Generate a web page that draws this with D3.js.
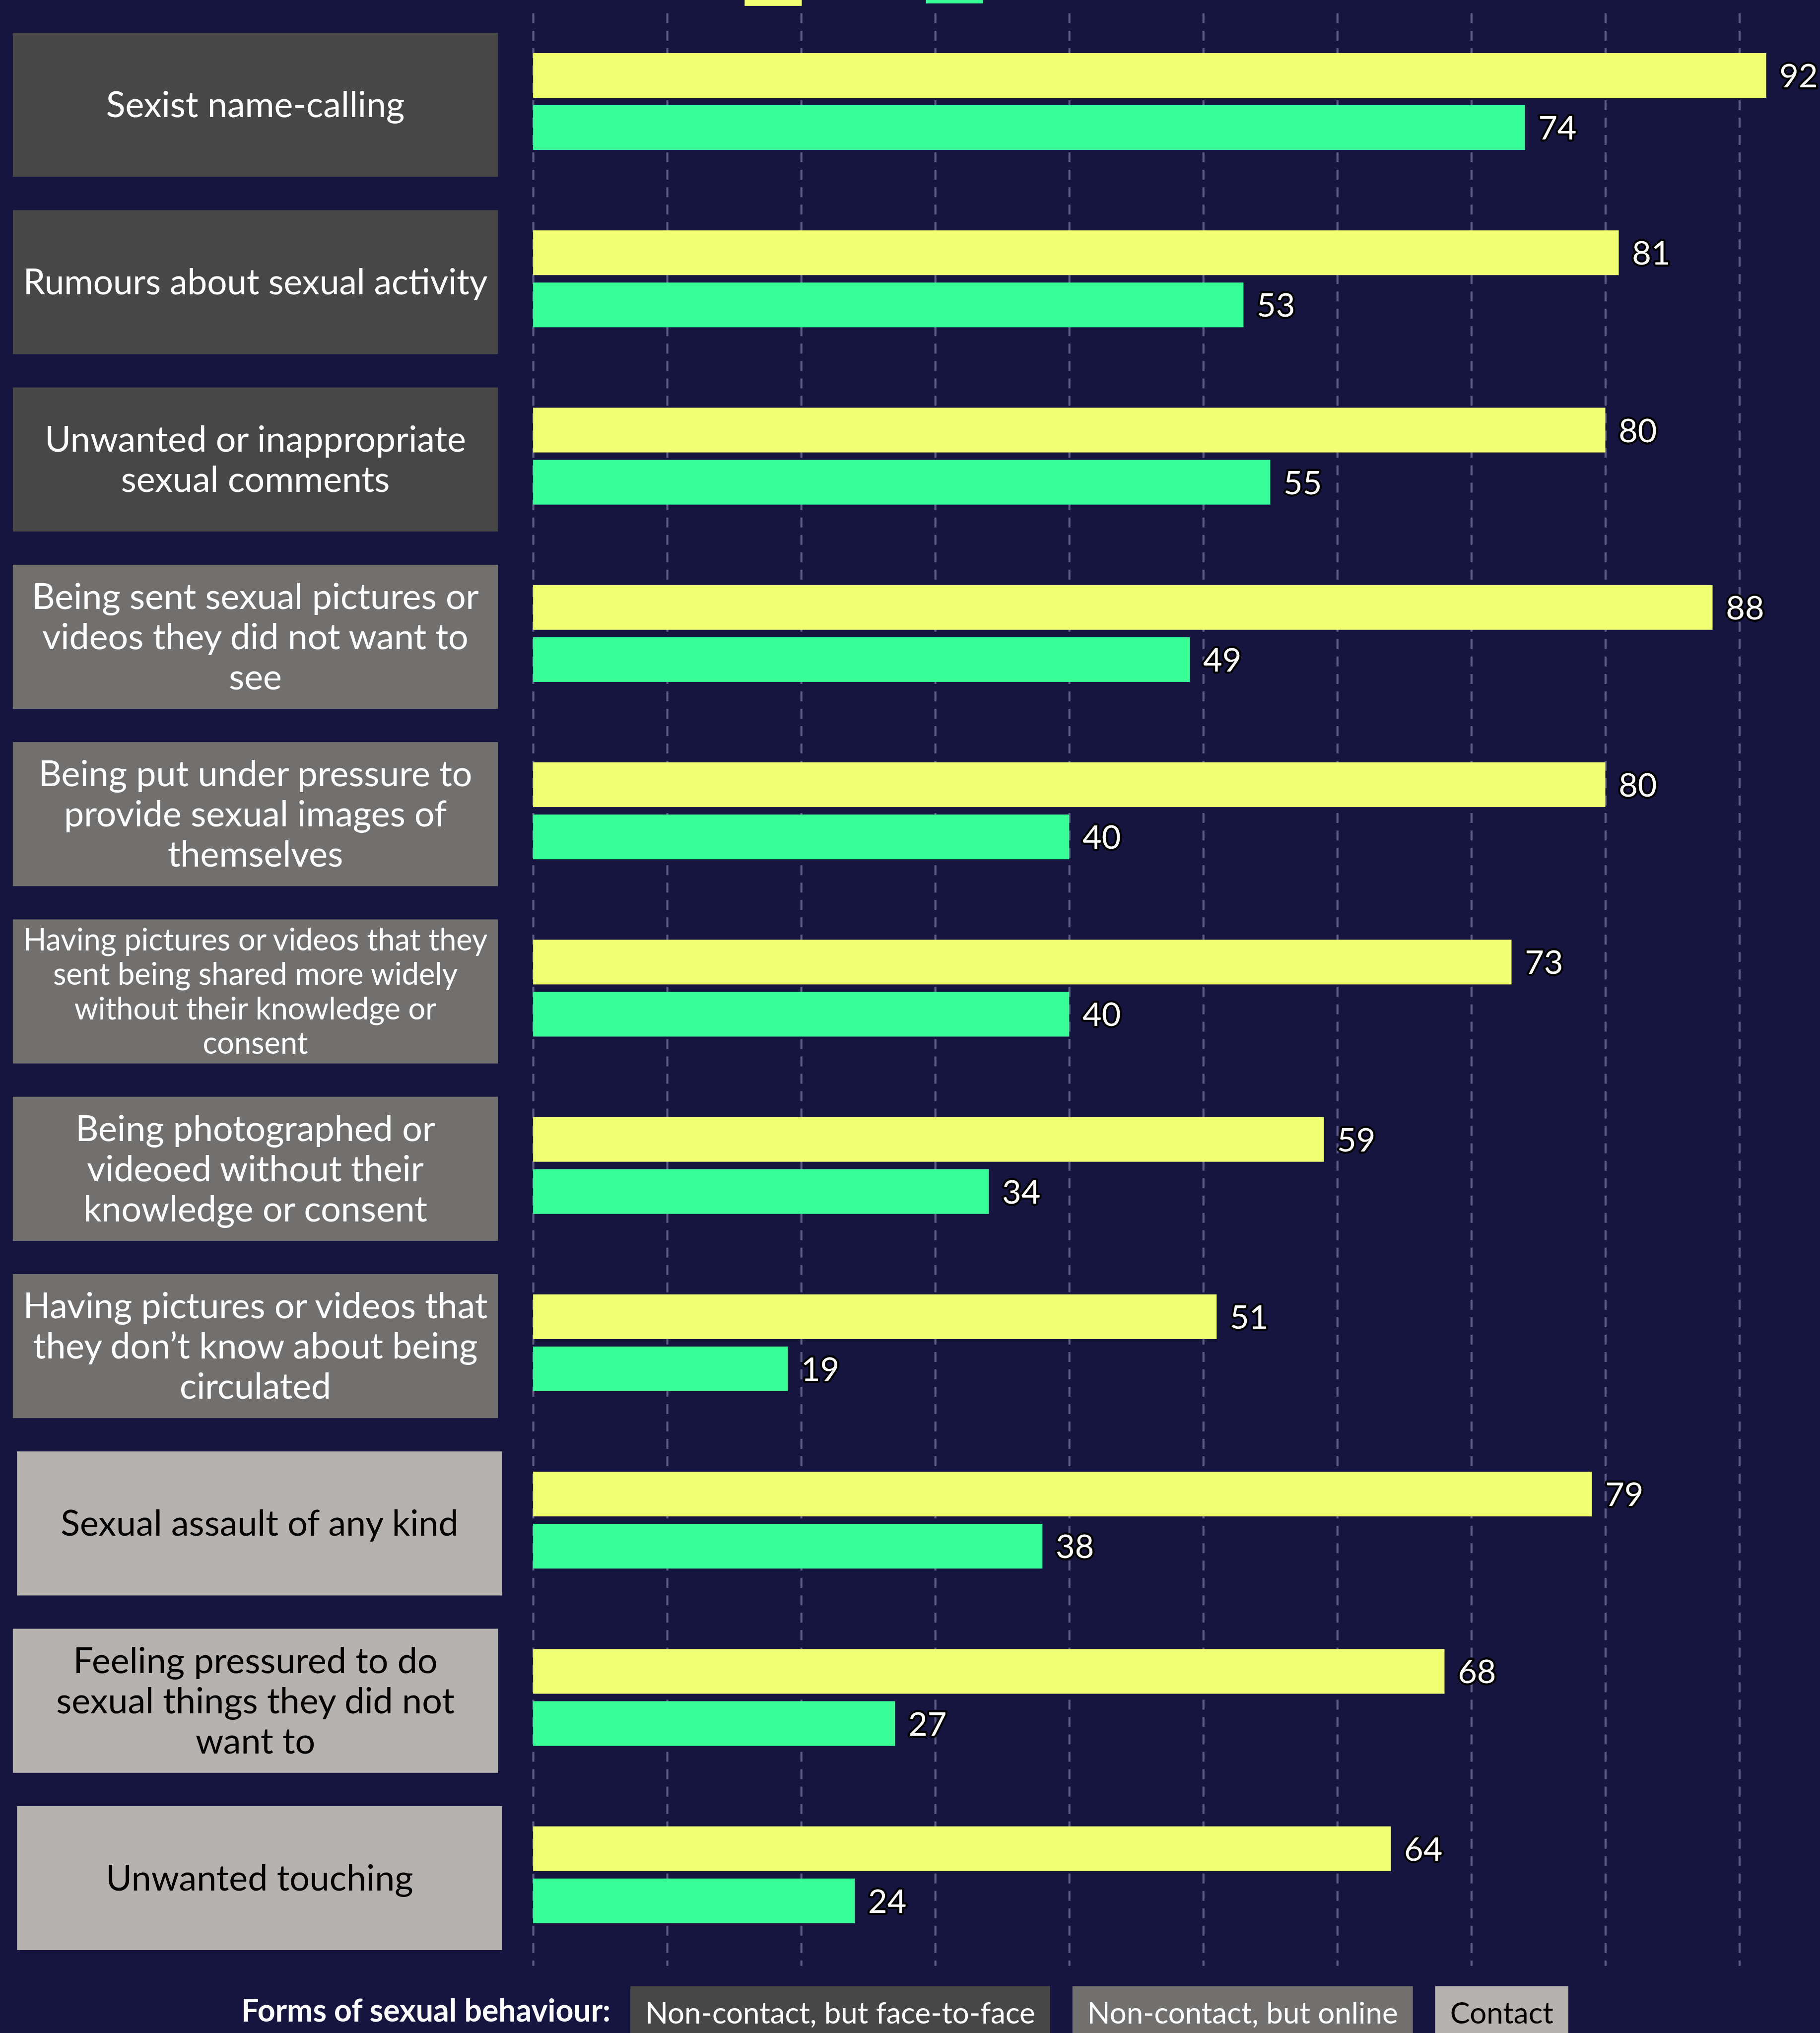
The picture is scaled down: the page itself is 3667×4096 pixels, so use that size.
<!DOCTYPE html>
<meta charset="utf-8">
<script src="https://d3js.org/d3.v7.min.js"></script>
<style>
  body { margin: 0; background: #161540; }
</style>
<div id="chart"></div>
<script>

  // chart values
  var categories = [
    "Sexist name-calling",
    "Rumours about sexual activity",
    "Unwanted or inappropriate\nsexual comments",
    "Being sent sexual pictures or\nvideos they did not want to\nsee",
    "Being put under pressure to\nprovide sexual images of\nthemselves",
    "Having pictures or videos that they\nsent being shared more widely\nwithout their knowledge or\nconsent",
    "Being photographed or\nvideoed without their\nknowledge or consent",
    "Having pictures or videos that\nthey don\u2019t know about being\ncirculated",
    "Sexual assault of any kind",
    "Feeling pressured to do\nsexual things they did not\nwant to",
    "Unwanted touching"
  ];
  var series = ["Girls", "Boys"];
  var girls = [92, 81, 80, 88, 80, 73, 59, 51, 79, 68, 64];
  var boys  = [74, 53, 55, 49, 40, 40, 34, 19, 38, 27, 24];
  var behaviour = [
    "Non-contact, but face-to-face", "Non-contact, but face-to-face", "Non-contact, but face-to-face",
    "Non-contact, but online", "Non-contact, but online", "Non-contact, but online",
    "Non-contact, but online", "Non-contact, but online",
    "Contact", "Contact", "Contact"
  ];
  var behaviourTypes = ["Non-contact, but face-to-face", "Non-contact, but online", "Contact"];
  var gridTicks = [0, 10, 20, 30, 40, 50, 60, 70, 80, 90];

  // drawing is done in the reference's pixel units, the viewBox scales it down
  var W = 4397, H = 4911;
  var font = "Lato, 'Open Sans', sans-serif";

  var svg = d3.select("#chart")
    .append("svg")
      .attr("width", 3667)
      .attr("height", 4096)
      .attr("viewBox", "0 0 " + W + " " + H);

  svg.append("rect").attr("width", W).attr("height", H).attr("fill", "#161540");

  var color = d3.scaleOrdinal().domain(series).range(["#f1ff73", "#38ff97"]);
  var boxColor = d3.scaleOrdinal().domain(behaviourTypes).range(["#474747", "#72706e", "#b5b2b0"]);
  var boxText = d3.scaleOrdinal().domain(behaviourTypes).range(["#ffffff", "#ffffff", "#000000"]);

  // scales
  var x = d3.scaleLinear().domain([0, 100]).range([1288, 4526]);
  var y = d3.scaleBand().domain(categories).range([71, 71 + 428.4 * categories.length]);
  var ySub = d3.scaleBand().domain(series).range([57, 291]).paddingInner(1 / 7);

  // dashed vertical grid
  var grid = svg.append("g")
      .attr("transform", "translate(0,32)")
      .call(d3.axisTop(x).tickValues(gridTicks).tickSize(-(4749 - 32)).tickFormat(""));
  grid.select(".domain").remove();
  grid.selectAll(".tick line")
      .attr("stroke", "#5c5b83")
      .attr("stroke-width", 5)
      .attr("stroke-dasharray", "24 18");

  // top legend swatches (mostly above the visible area)
  svg.append("rect").attr("x", 1799).attr("y", 14 - 138).attr("width", 138).attr("height", 138)
      .attr("fill", color("Girls"));
  svg.append("rect").attr("x", 2237).attr("y", 8 - 138).attr("width", 138).attr("height", 138)
      .attr("fill", color("Boys"));

  var rows = categories.map(function (c, i) {
    return {cat: c, type: behaviour[i], idx: i, values: [
      {key: "Girls", value: girls[i]},
      {key: "Boys", value: boys[i]}
    ]};
  });

  var group = svg.append("g").selectAll("g")
    .data(rows)
    .enter()
    .append("g")
      .attr("transform", function (d) { return "translate(0," + y(d.cat) + ")"; });

  // label boxes (the single-line contact boxes sit a little to the right)
  var boxW = 1172, boxH = 348;
  var boxX = function (d) { return (d.type == "Contact" && d.idx != 9) ? 41 : 31; };
  group.append("rect")
      .attr("x", boxX)
      .attr("y", 8)
      .attr("width", boxW)
      .attr("height", boxH)
      .attr("fill", function (d) { return boxColor(d.type); });

  group.each(function (d) {
    var g = d3.select(this);
    var lines = d.cat.split("\n");
    var cx = boxX(d) + boxW / 2;
    var size = 86;
    var t = g.append("text")
        .attr("text-anchor", "middle")
        .attr("fill", boxText(d.type))
        .style("font-family", font)
        .style("font-size", size + "px");
    lines.forEach(function (l) { t.append("tspan").attr("x", cx).text(l); });
    // shrink to fit the box
    var maxW = d3.max(t.selectAll("tspan").nodes(), function (n) { return n.getComputedTextLength(); });
    if (maxW > boxW - 50) size = size * (boxW - 50) / maxW;
    t.style("font-size", size + "px");
    var lh = size * 1.13;
    t.selectAll("tspan")
        .attr("y", function (_, i) { return 8 + boxH / 2 + (i - (lines.length - 1) / 2) * lh; })
        .attr("dy", "0.35em");
  });

  // bars
  group.selectAll(".bar")
    .data(function (d) { return d.values; })
    .enter()
    .append("rect")
      .attr("class", "bar")
      .attr("x", x(0))
      .attr("y", function (d) { return ySub(d.key); })
      .attr("width", function (d) { return x(d.value) - x(0); })
      .attr("height", ySub.bandwidth())
      .attr("fill", function (d) { return color(d.key); });

  // value labels
  group.selectAll(".val")
    .data(function (d) { return d.values; })
    .enter()
    .append("text")
      .attr("class", "val")
      .attr("x", function (d) { return x(d.value) + 32; })
      .attr("y", function (d) { return ySub(d.key) + ySub.bandwidth() / 2; })
      .attr("dy", "0.36em")
      .attr("fill", "#ffffff")
      .attr("stroke", "#000000")
      .attr("stroke-width", 10)
      .attr("stroke-linejoin", "round")
      .attr("paint-order", "stroke")
      .style("font-family", font)
      .style("font-size", "80px")
      .text(function (d) { return d.value; });

  // bottom legend
  svg.append("text")
      .attr("x", 1475)
      .attr("y", 4884)
      .attr("text-anchor", "end")
      .attr("fill", "#ffffff")
      .style("font-family", font)
      .style("font-weight", "bold")
      .style("font-size", "75px")
      .text("Forms of sexual behaviour:");

  var lx = 1523;
  behaviourTypes.forEach(function (b) {
    var item = svg.append("g");
    var r = item.append("rect").attr("x", lx).attr("y", 4798).attr("height", 160).attr("fill", boxColor(b));
    var t = item.append("text")
        .attr("x", lx + 36)
        .attr("y", 4888)
        .attr("fill", boxText(b))
        .style("font-family", font)
        .style("font-size", "72px")
        .text(b);
    var w = t.node().getComputedTextLength() + 72;
    r.attr("width", w);
    lx += w + 54;
  });

</script>
